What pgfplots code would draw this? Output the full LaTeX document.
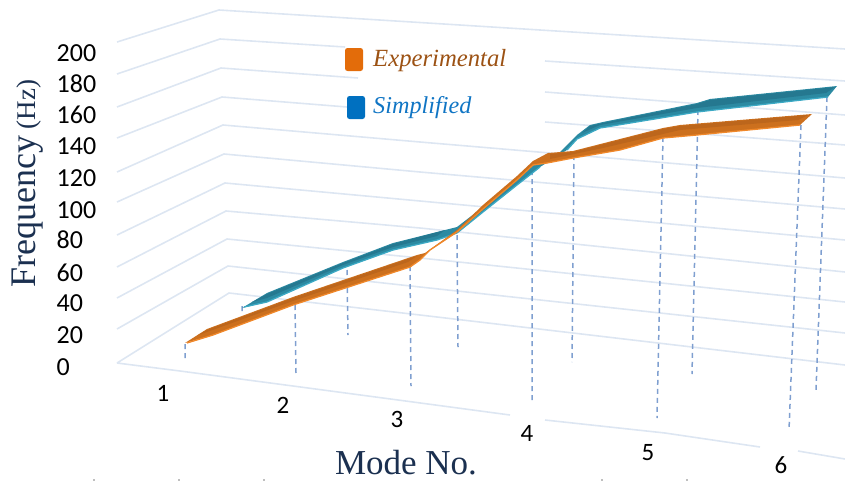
\documentclass[border=0pt]{standalone}
\usepackage{fontspec}
\usepackage{pgfplots}
\pgfplotsset{compat=1.18}
\setmainfont{Carlito}
\newfontfamily\serif{Liberation Serif}

\definecolor{GridBlue}{HTML}{DDE6F2}
\definecolor{DropBlue}{HTML}{7F9FD0}
\definecolor{Navy}{HTML}{1B3050}
\definecolor{OrangeMid}{HTML}{CC701E}
\definecolor{OrangeDark}{HTML}{BC661C}
\definecolor{OrangeLight}{HTML}{F0882A}
\definecolor{TealMid}{HTML}{2C8AA2}
\definecolor{TealDark}{HTML}{257890}
\definecolor{TealLight}{HTML}{3CA9C4}
\definecolor{KeyOrange}{HTML}{E36C0A}
\definecolor{KeyBlue}{HTML}{0070C0}
\definecolor{TextBrown}{HTML}{9C5214}
\definecolor{TextBlue}{HTML}{1075C4}

% traced in picture coordinates, the chart is a perspective view
\begin{document}
\begin{tikzpicture}
\useasboundingbox (0,0) rectangle (845pt,482pt);
\begin{axis}[
  at={(0,0)}, anchor=south west,
  width=845pt, height=482pt, scale only axis,
  xmin=0, xmax=845, ymin=0, ymax=482,
  y dir=reverse, hide axis, clip=false,
  unbounded coords=jump,
  every axis plot/.append style={forget plot},
]
% walls and floor
\addplot[GridBlue, line width=1.6pt] coordinates {
  (117,42) (219,10) (845,49) (nan,nan)
  (117,74) (220,39) (345,47) (nan,nan) (545,61) (845,81) (nan,nan)
  (117,107) (221,68) (358,78) (nan,nan) (545,92) (845,115) (nan,nan)
  (117,138) (222,97) (347,107) (nan,nan) (545,122) (845,145) (nan,nan)
  (117,172) (223,125) (420,142) (845,178) (nan,nan)
  (117,202) (224,154) (420,172) (845,209) (nan,nan)
  (117,235) (225,183) (420,201) (845,240) (nan,nan)
  (117,267) (226,211) (420,228) (845,272) (nan,nan)
  (117,298) (227,239) (420,258) (845,302) (nan,nan)
  (117,329) (228,266) (420,287) (845,333) (nan,nan)
  (117,363) (229,293) (420,315) (845,365) (nan,nan)
  (117,363) (180,371) (293,386) (413,402) (510,415) (nan,nan)
  (545,420) (665,433) (760,447) (nan,nan) (798,451) (845,459)
};
% drop lines
\addplot[DropBlue, line width=1.5pt, dash pattern=on 5pt off 4pt] coordinates {
  (185,344) (185,358) (nan,nan)
  (295,305) (296,373) (nan,nan)
  (410,266) (411,386) (nan,nan)
  (532,170) (532,403) (nan,nan)
  (663,137) (657,418) (nan,nan)
  (801,125) (789,430) (nan,nan)
  (242,306) (242,313) (nan,nan)
  (347,270) (348,335) (nan,nan)
  (457,235) (458,347) (nan,nan)
  (574,155) (572,362) (nan,nan)
  (698,110) (692,374) (nan,nan)
  (827,97) (816,390)
};
% Simplified
\addplot[fill=TealMid, draw=none] coordinates {
  (242,308) (267,293) (343,262) (393,243) (457,227)
  (483,207) (517,178) (540,160) (560,152) (577,135) (590,125) (603,122) (697,103) (710,99) (837,86)
  (828,97) (697,112) (600,128) (577,139) (567,150) (540,167) (517,185) (483,212) (457,233)
  (437,240) (393,250) (343,268) (293,290) (267,302)
};
\addplot[fill=TealDark, draw=none] coordinates {
  (252,302) (267,294) (343,263) (393,244) (445,230) (437,236) (393,247) (343,265) (267,298)
};
\addplot[fill=TealDark, draw=none] coordinates {
  (590,126) (603,123) (697,104) (710,100) (835,87) (826,93) (697,108) (600,125) (582,133)
};
\addplot[TealLight, line width=1.3pt] coordinates {
  (244,307) (267,302) (343,268) (393,250) (437,240) (457,233) (483,212) (517,185) (540,167)
  (nan,nan) (567,150) (577,139) (600,128) (697,112) (828,97)
};
% Experimental
\addplot[fill=OrangeMid, draw=none] coordinates {
  (185,343) (207,329) (293,297) (417,255) (425,253)
  (457,230) (483,205) (517,176) (533,161) (548,153) (573,151) (663,128) (680,125) (812,114)
  (800,125) (697,135) (663,138) (620,150) (573,158) (547,163) (533,165) (517,180) (483,209)
  (457,232) (430,250) (420,260) (410,267) (293,305) (213,335)
};
\addplot[fill=OrangeDark, draw=none] coordinates {
  (198,335) (207,330) (293,298) (417,256) (408,262) (293,301) (207,332)
};
\addplot[fill=OrangeDark, draw=none] coordinates {
  (550,154) (573,152) (663,129) (680,126) (808,115) (798,120) (680,130) (603,148) (550,159)
};
\addplot[OrangeLight, line width=1.3pt] coordinates {
  (187,343) (213,335) (293,305) (410,267) (420,260) (430,250)
  (457,232) (483,209) (517,180) (533,165) (547,163) (573,158) (620,150) (663,138) (697,135) (800,125)
};
% specks left along the lower edge of the source picture
\addplot[only marks, mark=square*, mark size=0.6pt, color=black!25] coordinates {
  (94,480) (179,480) (264,480) (602,480) (687,480)
};
% legend keys
\fill[KeyOrange, rounded corners=2.5pt] (axis cs:345,48) rectangle (axis cs:363,71);
\fill[KeyBlue, rounded corners=2.5pt] (axis cs:347,96) rectangle (axis cs:365,119);
\node[anchor=west, inner sep=0pt, text=TextBrown] at (axis cs:373,61) {\fontsize{24.7}{26}\serif\itshape\selectfont Experimental};
\node[anchor=west, inner sep=0pt, text=TextBlue] at (axis cs:373,108) {\fontsize{24.2}{26}\serif\itshape\selectfont Simplified};
% frequency scale
\foreach \lab/\yy in {200/53,180/84,160/115,140/146,120/178,100/210,80/240,60/273,40/303,20/335,0/367} {
  \edef\temp{\noexpand\node[anchor=west, inner sep=0pt] at (axis cs:56.5,\yy) {\noexpand\fontsize{26}{26}\noexpand\selectfont \lab};}
  \temp
}
% mode numbers
\foreach \lab/\xx/\yy in {1/163/393,2/283/405,3/397/419,4/527/433,5/648/453,6/781/465} {
  \edef\temp{\noexpand\node[inner sep=0pt] at (axis cs:\xx,\yy) {\noexpand\fontsize{25}{25}\noexpand\selectfont \lab};}
  \temp
}
% axis titles
\node[rotate=90, anchor=base west, inner sep=0pt, text=Navy] at (axis cs:35,288) {\fontsize{36}{38}\serif\selectfont Frequency\fontsize{27}{38}\selectfont{} (Hz)};
\node[anchor=base, inner sep=0pt, text=Navy] at (axis cs:406,474.5) {\fontsize{35}{36}\serif\selectfont Mode No.};
\end{axis}
\end{tikzpicture}
\end{document}
